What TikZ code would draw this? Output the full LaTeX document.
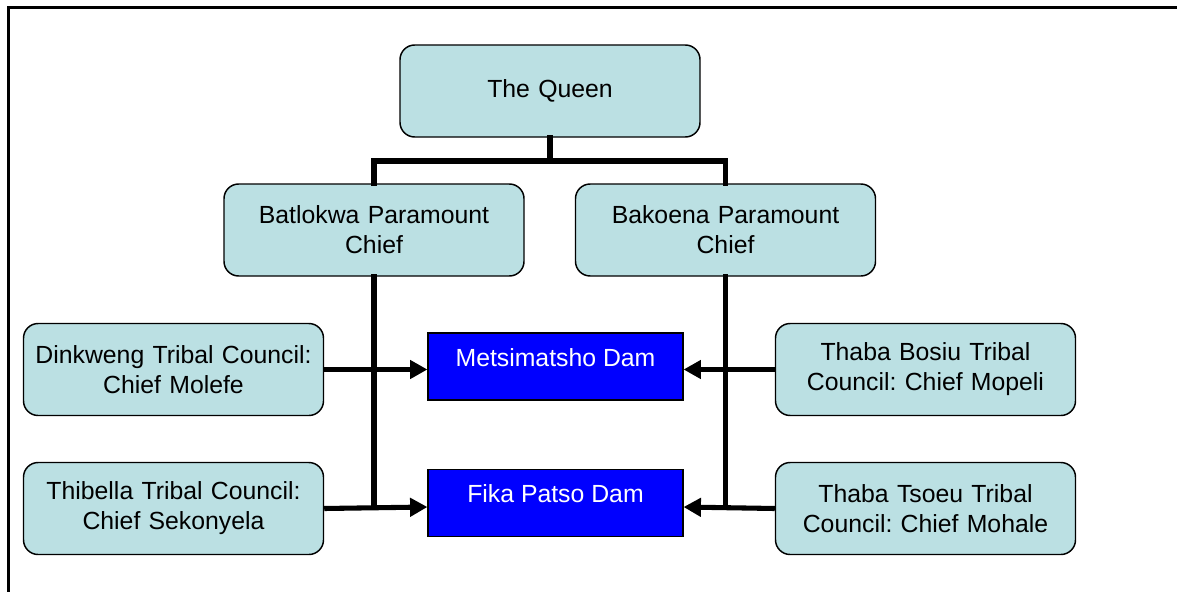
\documentclass[tikz,border=0pt]{standalone}
\usepackage{fontspec}
\setmainfont{Liberation Sans}
\usetikzlibrary{arrows.meta}
\frenchspacing
\definecolor{boxblue}{HTML}{BBE0E3}
\definecolor{damblue}{HTML}{0000FF}
\begin{document}
\begin{tikzpicture}[x=0.75pt,y=-0.75pt,
  font=\fontsize{18.6}{22.5}\selectfont,
  rank/.style={draw=black, line width=1.1pt, fill=boxblue, rounded corners=11pt,
    minimum width=225pt, minimum height=69pt, inner sep=2pt, align=center, text width=220pt},
  dam/.style={draw=black, line width=1.1pt, fill=damblue, text=white,
    minimum width=191pt, minimum height=50pt, inner sep=0pt, align=center,
    text height=13.4pt, text depth=13.5pt},
  link/.style={line width=3.8pt, line cap=rect},
  feed/.style={line width=3.8pt, -{Triangle[length=13pt,width=13.5pt]}}]
  \useasboundingbox (0,0) rectangle (1177,592);
  % frame
  \draw[line width=1.7pt] (8.5,592) -- (8.5,7.5) -- (1177,7.5);

  % ranks
  \node[rank] (queen) at (550,91) {The Queen};
  \node[rank] (batlokwa) at (374,230) {Batlokwa Paramount\\Chief};
  \node[rank] (bakoena) at (725.5,230) {Bakoena Paramount\\Chief};
  \node[rank] (dinkweng) at (173.5,369.5) {Dinkweng Tribal Council:\\Chief Molefe};
  \node[rank] (thibella) at (173.5,508.5) {Thibella Tribal Council:\\Chief Sekonyela};
  \node[rank] (bosiu) at (925.5,369.5) {Thaba Bosiu Tribal\\Council: Chief Mopeli};
  \node[rank] (tsoeu) at (925.5,508.5) {Thaba Tsoeu Tribal\\Council: Chief Mohale};

  % dams
  \node[dam] (metsi) at (555.5,366.5) {Metsimatsho Dam};
  \node[dam] (fika) at (555.5,503) {Fika Patso Dam};

  % tree from the queen
  \coordinate (qj) at (550,161);
  \draw[link] (queen.south) -- (qj);
  \draw[link] (batlokwa.north) |- (qj) -| (bakoena.north);

  % paramount chiefs down to the dam level
  \coordinate (lb) at (374,507);
  \coordinate (rb) at (725.5,507);
  \draw[link] (batlokwa.south) -- (lb);
  \draw[link] (bakoena.south) -- (rb);

  % councils to the dams
  \draw[feed] (dinkweng.east) -- (metsi.west |- dinkweng.east);
  \draw[feed] (thibella.east) -- (fika.west |- lb);
  \draw[feed] (bosiu.west) -- (metsi.east |- bosiu.west);
  \draw[feed] (tsoeu.west) -- (fika.east |- rb);
\end{tikzpicture}
\end{document}
